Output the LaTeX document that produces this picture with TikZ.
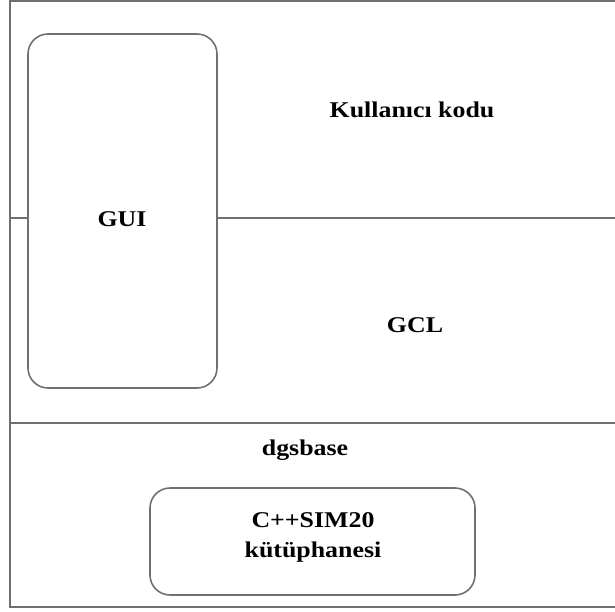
\documentclass[tikz,border=0pt]{standalone}
\usepackage{fontspec}
\setmainfont{Liberation Serif}[FakeStretch=1.15]
\definecolor{edge}{RGB}{112,112,112}
\tikzset{
  frame/.style={draw=edge, line width=1.6pt},
  roundbox/.style={frame, rounded corners=20pt, inner sep=0pt},
  lbl/.style={font=\bfseries\fontsize{22.5}{30}\selectfont, inner sep=0pt, align=center, text=black}
}
\begin{document}
\begin{tikzpicture}[x=1pt, y=-1pt]
  \useasboundingbox (0,0) rectangle (615,612);
  % outer frame (open to the right)
  \coordinate (tr) at (620,1);
  \coordinate (tl) at (10,1);
  \coordinate (bl) at (10,607);
  \coordinate (br) at (620,607);
  \draw[frame] (tr) -- (tl) -- (bl) -- (br);

  % GUI column
  \node[roundbox, minimum width=189pt, minimum height=354pt] (gui) at (122.5,211) {};
  \node[lbl] (guit) at (122,219) {GUI};

  % layer separators
  \coordinate (s1l) at (10,218);
  \coordinate (s1r) at (620,218);
  \draw[frame] (s1l) -- (s1l -| gui.west);
  \draw[frame] (s1l -| gui.east) -- (s1r);
  \coordinate (s2l) at (10,423);
  \coordinate (s2r) at (620,423);
  \draw[frame] (s2l) -- (s2r);

  % layer labels
  \node[lbl] (user) at (412,110) {Kullanıcı kodu};
  \node[lbl] (gcl) at (415,325) {GCL};
  \node[lbl] (dgs) at (305,450) {dgsbase};

  % library box
  \node[roundbox, minimum width=325pt, minimum height=107pt] (lib) at (312.5,541.5) {};
  \node[lbl] (libt) at (313,537) {C++SIM20\\kütüphanesi};
\end{tikzpicture}
\end{document}
